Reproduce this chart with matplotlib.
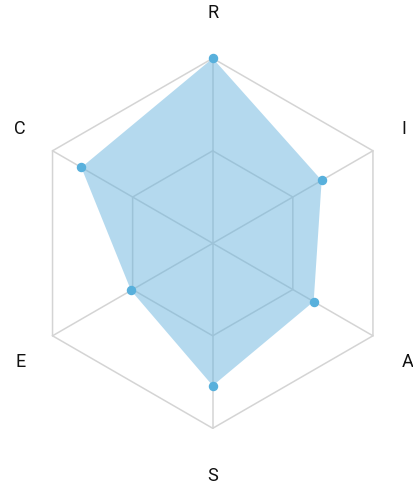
import matplotlib as mpl
mpl.use('Agg')
import matplotlib.pyplot as plt
import numpy as np

plt.rcParams['font.family'] = ['Roboto', 'DejaVu Sans']

labels = ['R', 'I', 'A', 'S', 'E', 'C']
values = [100, 68, 63, 77, 51, 82]
max_value = 100
grid_levels = [0.5, 1.0]

# angles: R at top, going clockwise
angles = np.pi / 2 - np.arange(len(labels)) * 2 * np.pi / len(labels)

fig = plt.figure(figsize=(4.14, 4.89), dpi=100)
ax = fig.add_axes([0, 0, 1, 1])
ax.set_xlim(-1.150, 1.088)
ax.set_ylim(-1.3227, 1.3205)
ax.axis('off')

grid_color = '#d4d4d4'
for lev in grid_levels:
    gx = np.append(lev * np.cos(angles), lev * np.cos(angles[0]))
    gy = np.append(lev * np.sin(angles), lev * np.sin(angles[0]))
    ax.plot(gx, gy, color=grid_color, lw=1.1, zorder=1)
for a in angles:
    ax.plot([0, np.cos(a)], [0, np.sin(a)], color=grid_color, lw=1.1, zorder=1)

r = np.array(values) / max_value
px = r * np.cos(angles)
py = r * np.sin(angles)
ax.fill(px, py, color='#62b1dd', alpha=0.48, lw=0, zorder=2)
ax.plot(px, py, 'o', color='#58b0dc', ms=5.8, zorder=3)

# axis names around the outside
for lab, a in zip(labels, angles):
    c, s = np.cos(a), np.sin(a)
    if abs(c) < 0.1:
        ax.text(0, 1.25 * np.sign(s), lab, ha='center', va='center',
                fontsize=13, color='#111111')
    else:
        y = 1.175 * s + (0.036 if s > 0 else -0.048)
        x = 1.02 if c > 0 else -1.012
        ax.text(x, y, lab, ha='left' if c > 0 else 'right', va='center',
                fontsize=13, color='#111111')

fig.savefig('out.png', dpi=100)
